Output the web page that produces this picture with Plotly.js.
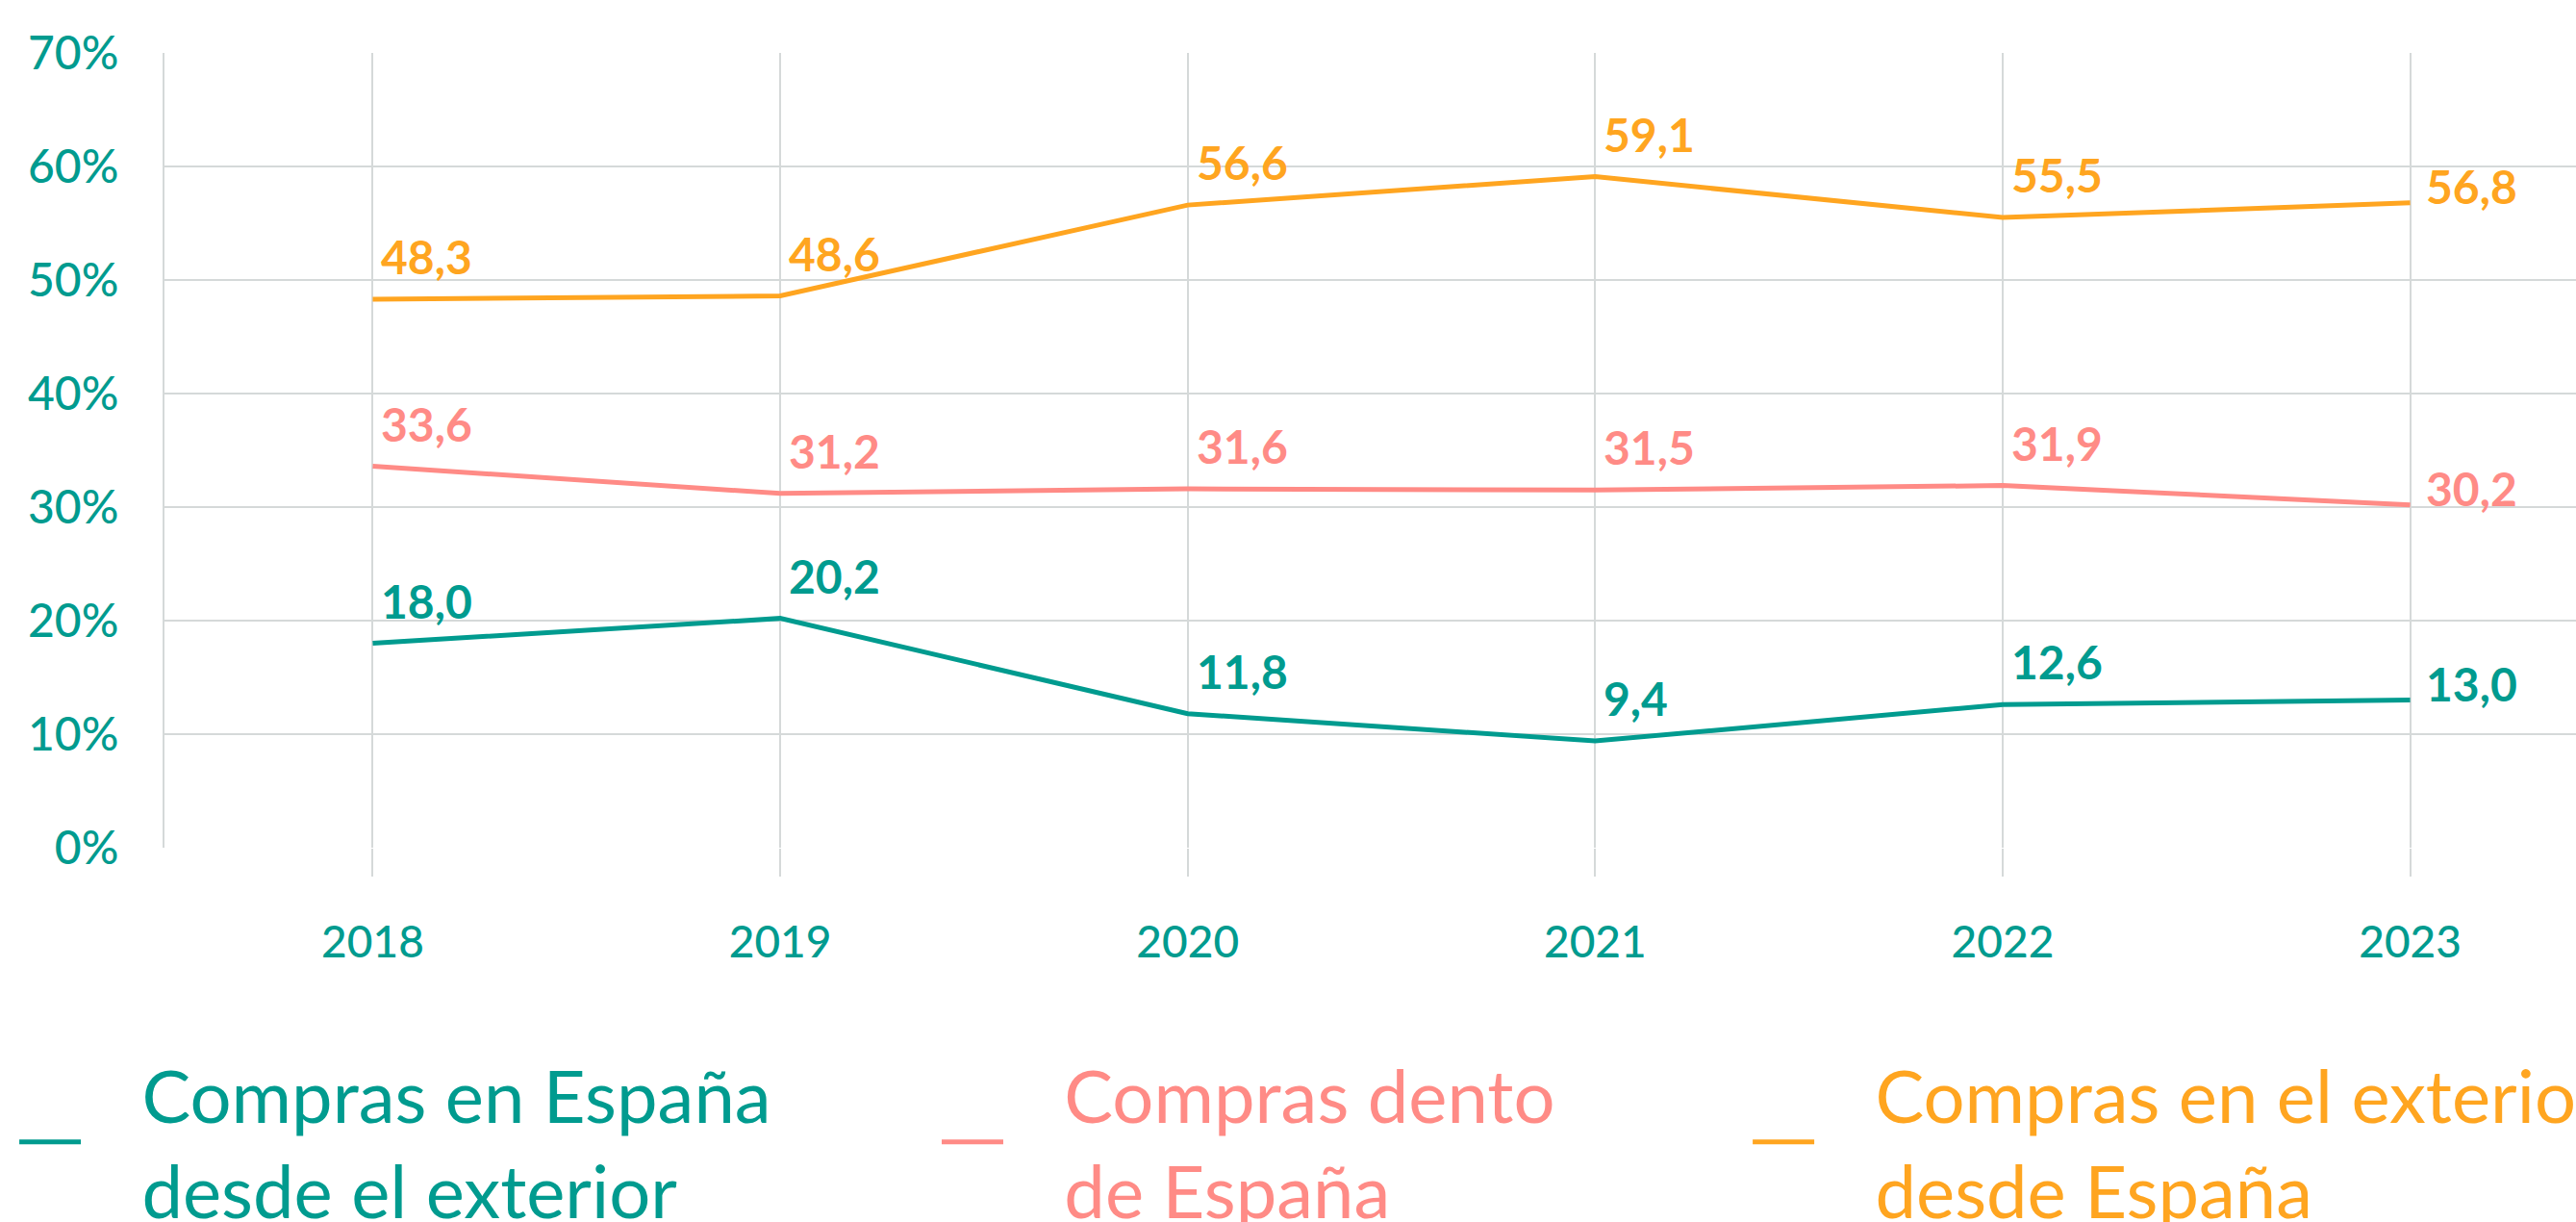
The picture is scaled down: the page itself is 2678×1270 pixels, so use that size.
<!DOCTYPE html>
<html>
<head>
<meta charset="utf-8">
<script src="https://cdn.plot.ly/plotly-3.0.1.min.js"></script>
<style>html,body{margin:0;padding:0;overflow:hidden;background:#fff;}#chart{width:2678px;height:1270px;}</style>
</head>
<body>
<div id="chart"></div>
<script>
// ---- data ----
const years = [2018, 2019, 2020, 2021, 2022, 2023];
const seriesNames = [
  ["Compras en España", "desde el exterior"],
  ["Compras dento", "de España"],
  ["Compras en el exterior", "desde España"]
];
const comprasEspanaDesdeExterior = [18.0, 20.2, 11.8, 9.4, 12.6, 13.0];
const comprasDentroEspana = [33.6, 31.2, 31.6, 31.5, 31.9, 30.2];
const comprasExteriorDesdeEspana = [48.3, 48.6, 56.6, 59.1, 55.5, 56.8];
const yTickValues = [0, 10, 20, 30, 40, 50, 60, 70];

// ---- style ----
const colors = ["#009B8F", "#FF8B86", "#FFA520"];
const gridColor = "#D5D9D9";
const fontFamily = "Lato, 'Open Sans', sans-serif";
const seriesValues = [comprasEspanaDesdeExterior, comprasDentroEspana, comprasExteriorDesdeEspana];
const legendIds = ["legend", "legend2", "legend3"];
const legendX = [-0.0622, 0.3203, 0.6566];
const indent = "\u00a0\u00a0\u00a0";

const traces = seriesValues.map((vals, s) => ({
  type: "scatter",
  mode: "lines",
  x: years,
  y: vals,
  name: seriesNames[s].map(t => indent + t).join("<br>"),
  legend: legendIds[s],
  line: {color: colors[s], width: 5},
  hoverinfo: "x+y"
}));

const annotations = [];
seriesValues.forEach((vals, s) => {
  vals.forEach((v, i) => {
    const last = i === vals.length - 1;
    annotations.push({
      x: years[i], y: v, xref: "x", yref: "y",
      text: v.toFixed(1).replace(".", ","),
      showarrow: false,
      xanchor: "left",
      yanchor: last ? "middle" : "bottom",
      xshift: last ? 14 : 7,
      yshift: last ? 17 : 14,
      font: {family: fontFamily, size: 48, color: colors[s], weight: 700}
    });
  });
});

const layout = {
  width: 2678, height: 1270,
  margin: {l: 171, r: 0, t: 55, b: 389, autoexpand: false},
  paper_bgcolor: "#fff", plot_bgcolor: "#fff",
  font: {family: fontFamily, color: colors[0]},
  showlegend: true,
  xaxis: {
    range: [2017.489, 2023.407],
    tickmode: "array", tickvals: years, ticktext: years.map(String),
    showgrid: true, gridcolor: gridColor, gridwidth: 2,
    zeroline: false, showline: false,
    ticks: "outside", ticklen: 29, tickwidth: 2, tickcolor: gridColor,
    ticklabelstandoff: 29,
    tickfont: {family: fontFamily, size: 46, color: colors[0], weight: 500},
    fixedrange: true
  },
  yaxis: {
    range: [0, 70],
    tickmode: "array", tickvals: yTickValues, ticktext: yTickValues.map(v => v + "%"),
    showgrid: true, gridcolor: gridColor, gridwidth: 2,
    zeroline: false,
    showline: true, linecolor: gridColor, linewidth: 2,
    ticks: "", ticklabelstandoff: 36,
    tickfont: {family: fontFamily, size: 48, color: colors[0], weight: 500},
    fixedrange: true
  },
  annotations: annotations
};
legendIds.forEach((id, s) => {
  layout[id] = {
    x: legendX[s], xanchor: "left", xref: "paper",
    y: -0.3705, yanchor: "middle", yref: "paper",
    orientation: "v",
    bgcolor: "rgba(0,0,0,0)", borderwidth: 0,
    itemwidth: 64, valign: "middle",
    font: {family: fontFamily, size: 76, color: colors[s]}
  };
});

Plotly.newPlot("chart", traces, layout, {displayModeBar: false, staticPlot: true});
</script>
</body>
</html>
